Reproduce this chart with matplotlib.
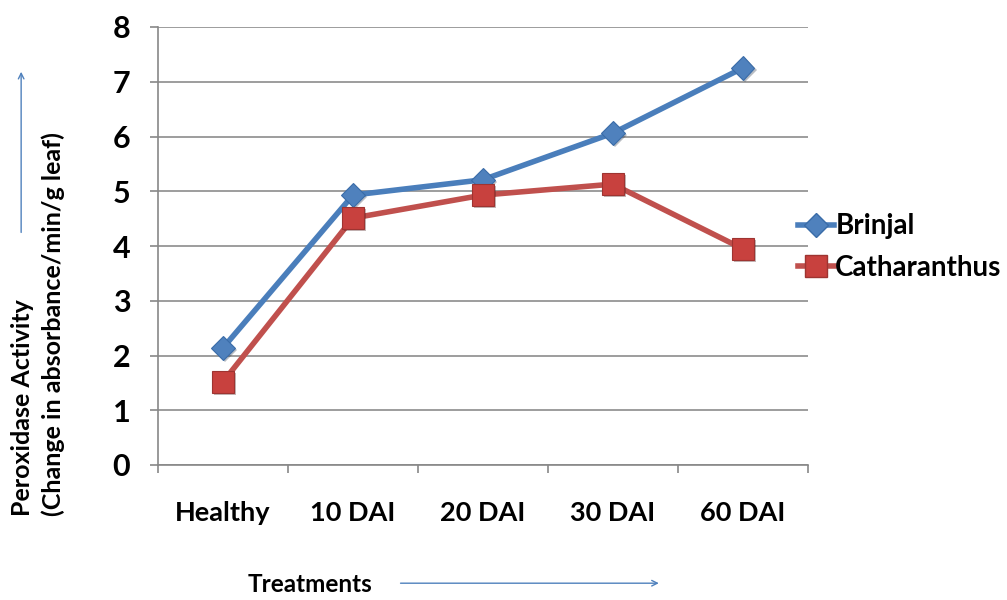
import numpy as np
import matplotlib.pyplot as plt
from matplotlib import patheffects as pe
from matplotlib.lines import Line2D

# Peroxidase activity per treatment
treatments = ["Healthy", "10 DAI", "20 DAI", "30 DAI", "60 DAI"]
brinjal = [2.14, 4.93, 5.21, 6.06, 7.25]
catharanthus = [1.52, 4.51, 4.93, 5.13, 3.95]

plt.rcParams['font.family'] = ['Lato', 'DejaVu Sans']

fig = plt.figure(figsize=(10.07, 6.0), dpi=100)
ax = fig.add_axes([0.157, 0.225, 0.645, 0.73])

x = np.arange(len(treatments))
shadow = [pe.SimplePatchShadow(offset=(1.5, -1.5), alpha=0.3), pe.Normal()]

blue, blue_edge = '#4A7EBB', '#3A6CA8'
red, red_edge = '#C0504D', '#9E3431'

# lines first, markers on top with a soft drop shadow
ax.plot(x, brinjal, color=blue, lw=4, solid_capstyle='round', zorder=3)
ax.plot(x, catharanthus, color=red, lw=4, solid_capstyle='round', zorder=3)
ax.plot(x, brinjal, ls='none', marker='D', ms=12, mfc='#4F81BD', mec=blue_edge,
        mew=0.8, path_effects=shadow, zorder=4)
ax.plot(x, catharanthus, ls='none', marker='s', ms=16, mfc='#C8413E', mec=red_edge,
        mew=0.8, path_effects=shadow, zorder=4)

ax.set_xlim(-0.5, len(treatments) - 0.5)
ax.set_ylim(0, 8)
ax.set_yticks(range(0, 9))
ax.set_xticks(x)
ax.set_xticklabels(treatments, fontsize=19.5, fontweight='bold')
ax.set_xticks(np.arange(-0.5, len(treatments)), minor=True)
ax.tick_params(axis='x', which='major', length=0, pad=26)
ax.tick_params(axis='x', which='minor', length=6, color='#888888', width=1.2)
ax.tick_params(axis='y', length=6, color='#888888', width=1.2, labelsize=22, pad=14)
for lbl in ax.get_yticklabels():
    lbl.set_fontweight('bold')

ax.grid(axis='y', color='#8C8C8C', lw=1.2)
ax.set_axisbelow(True)
for side in ['top', 'right']:
    ax.spines[side].set_visible(False)
for side in ['left', 'bottom']:
    ax.spines[side].set_color('#888888')
    ax.spines[side].set_linewidth(1.2)

handles = [
    Line2D([], [], color=blue, lw=4, marker='D', ms=12, mfc='#4F81BD', mec=blue_edge),
    Line2D([], [], color=red, lw=4, marker='s', ms=16, mfc='#C8413E', mec=red_edge),
]
ax.legend(handles, ['Brinjal', 'Catharanthus'], loc='center left',
          bbox_to_anchor=(0.985, 0.498), frameon=False, borderpad=0,
          borderaxespad=0, prop={'size': 20, 'weight': 'bold'},
          handlelength=1.3, handletextpad=0.05, labelspacing=0.55)

# axis titles with direction arrows
fig.text(0.038, 0.14, "Peroxidase Activity\n(Change in absorbance/min/g leaf)",
         rotation=90, ha='center', va='bottom', multialignment='left',
         fontsize=18, fontweight='bold', linespacing=1.4)
ax.annotate('', xy=(0.021, 0.885), xytext=(0.021, 0.608), xycoords='figure fraction',
            textcoords='figure fraction', annotation_clip=False,
            arrowprops=dict(arrowstyle='->', color='#4F81BD', lw=1.0))
fig.text(0.246, 0.025, "Treatments", ha='left', va='center', fontsize=17.5, fontweight='bold')
ax.annotate('', xy=(0.657, 0.028), xytext=(0.395, 0.028), xycoords='figure fraction',
            textcoords='figure fraction', annotation_clip=False,
            arrowprops=dict(arrowstyle='->', color='#4F81BD', lw=1.0))

fig.savefig('out.png', dpi=100)
